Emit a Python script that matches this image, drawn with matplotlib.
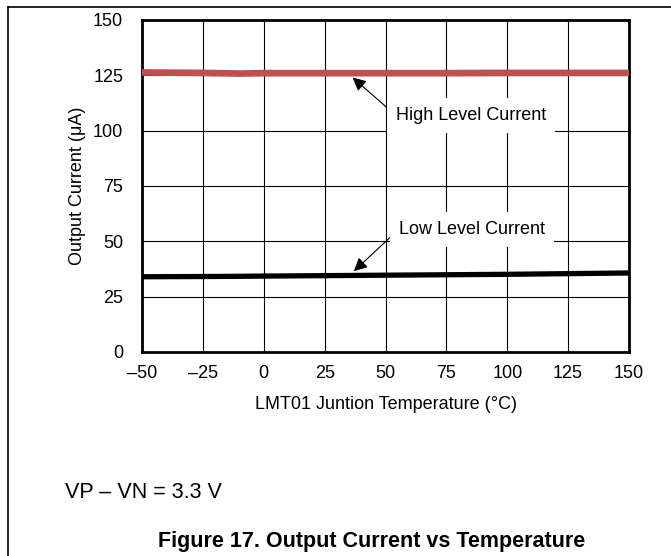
import matplotlib
matplotlib.use("Agg")
import matplotlib.pyplot as plt
from matplotlib.lines import Line2D

plt.rcParams['font.family'] = ['Liberation Sans', 'DejaVu Sans']

# data
temp = [-50, -25, -10, 0, 25, 50, 75, 100, 125, 150]
high_current = [126.3, 126.1, 125.8, 126.0, 126.0, 126.0, 126.0, 126.1, 126.1, 126.1]
low_current = [34.0, 34.1, 34.2, 34.3, 34.5, 34.7, 34.9, 35.1, 35.4, 35.7]

x_ticks = [-50, -25, 0, 25, 50, 75, 100, 125, 150]
x_tick_labels = ['–50', '–25', '0', '25', '50', '75', '100', '125', '150']
y_ticks = [0, 25, 50, 75, 100, 125, 150]

fig = plt.figure(figsize=(6.71, 5.56), dpi=100)
ax = fig.add_axes([142 / 671, 1 - 352 / 556, 487 / 671, 332 / 556])

ax.plot(temp, high_current, color='#C0504D', lw=4.8, solid_capstyle='butt', zorder=3)
ax.plot(temp, low_current, color='black', lw=3.8, solid_capstyle='butt', zorder=3)

ax.set_xlim(-50, 150)
ax.set_ylim(0, 150)
ax.set_xticks(x_ticks)
ax.set_xticklabels(x_tick_labels)
ax.set_yticks(y_ticks)
ax.tick_params(length=0, labelsize=13)
ax.tick_params(axis='x', pad=9.5)
ax.tick_params(axis='y', pad=13.5)
ax.grid(True, color='black', lw=0.8)
ax.set_axisbelow(True)
for s in ax.spines.values():
    s.set_linewidth(2)

ax.set_xlabel('LMT01 Juntion Temperature (°C)', fontsize=13, labelpad=10)
ax.set_ylabel('Output Current (μA)', fontsize=13, labelpad=5)

box = dict(boxstyle='square,pad=0.5', fc='white', ec='none')
ax.annotate('High Level Current', xy=(36.5, 124), xytext=(85, 107),
            fontsize=13, ha='center', va='center', bbox=box, zorder=5,
            arrowprops=dict(arrowstyle='-|>', color='black', lw=0.8,
                            mutation_scale=20, shrinkA=0, shrinkB=0,
                            relpos=(0.0, 0.5)))
ax.annotate('Low Level Current', xy=(37, 36.5), xytext=(85.5, 55.5),
            fontsize=13, ha='center', va='center', bbox=box, zorder=5,
            arrowprops=dict(arrowstyle='-|>', color='black', lw=0.8,
                            mutation_scale=20, shrinkA=0, shrinkB=0,
                            relpos=(0.0, 0.5)))

fig.text(65 / 671, 1 - 492 / 556, 'VP – VN = 3.3 V', fontsize=15.5, va='center')
fig.text(372 / 671, 1 - 541 / 556, 'Figure 17. Output Current vs Temperature',
         fontsize=15.5, fontweight='bold', ha='center', va='center')

# frame lines at top and left of the page
fig.add_artist(Line2D([8 / 671, 1], [1 - 6.5 / 556, 1 - 6.5 / 556],
                      transform=fig.transFigure, color='black', lw=1.2))
fig.add_artist(Line2D([8 / 671, 8 / 671], [0, 1 - 6.5 / 556],
                      transform=fig.transFigure, color='black', lw=1.2))

plt.savefig('out.png', dpi=100)
